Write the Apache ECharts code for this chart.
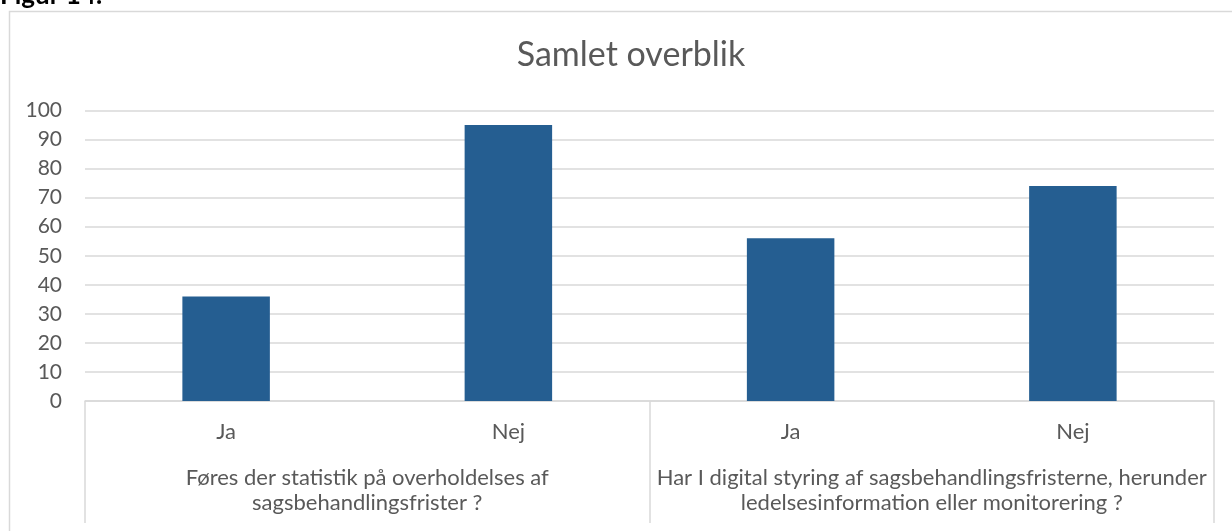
<!DOCTYPE html>
<html>
<head>
<meta charset="utf-8">
<script src="https://cdn.jsdelivr.net/npm/echarts@6/dist/echarts.min.js"></script>
<style>
  html, body { margin: 0; padding: 0; background: #ffffff; }
  #chart { width: 1232px; height: 531px; }
</style>
</head>
<body>
<div id="chart"></div>
<script>
// Answer categories (inner axis level) and the two survey questions (outer level)
const answers = ['Ja', 'Nej', 'Ja', 'Nej'];
const questions = [
  'Føres der statistik på overholdelses af\nsagsbehandlingsfrister ?',
  'Har I digital styring af sagsbehandlingsfristerne, herunder\nledelsesinformation eller monitorering ?'
];
// Number of responses per answer
const counts = [36, 95, 56, 74];
// Value axis ticks
const yMin = 0;
const yMax = 100;
const yStep = 10;

const FONT = 'Lato, "Open Sans", sans-serif';
const TEXT = '#595959';
const GRID = '#d9d9d9';

const chart = echarts.init(document.getElementById('chart'), null, { renderer: 'canvas' });

chart.setOption({
  backgroundColor: '#ffffff',
  animation: false,
  textStyle: { fontFamily: FONT },
  title: {
    text: 'Samlet overblik',
    left: 626,
    top: 33,
    textAlign: 'center',
    textStyle: { fontFamily: FONT, fontSize: 34, fontWeight: 'normal', color: TEXT }
  },
  graphic: [
    {
      type: 'rect',
      shape: { x: 9.5, y: 11.5, width: 1260, height: 560 },
      style: { fill: 'none', stroke: GRID, lineWidth: 1.5 },
      silent: true,
      z: 0
    },
    {
      type: 'text',
      left: 0,
      top: -17,
      style: { text: 'Figur 14:', font: 'bold 26px ' + FONT, fill: '#000000' },
      silent: true
    }
  ],
  grid: { left: 85, right: 18, top: 110.5, bottom: 130, containLabel: false },
  xAxis: [
    {
      type: 'category',
      data: answers,
      position: 'bottom',
      axisLine: { show: true, lineStyle: { color: GRID, width: 1.5 } },
      axisTick: { show: false },
      axisLabel: { color: TEXT, fontSize: 22, fontFamily: FONT, margin: 20, interval: 0 }
    },
    {
      type: 'category',
      data: questions,
      position: 'bottom',
      offset: 122,
      axisLine: { show: false },
      axisTick: { show: true, inside: true, length: 122, interval: 0, lineStyle: { color: GRID, width: 1.5 } },
      axisLabel: {
        inside: true,
        interval: 0,
        hideOverlap: false,
        margin: 8,
        color: TEXT,
        fontSize: 22,
        fontFamily: FONT,
        lineHeight: 25,
        align: 'center',
        verticalAlign: 'bottom'
      },
      splitLine: { show: false }
    }
  ],
  yAxis: {
    type: 'value',
    min: yMin,
    max: yMax,
    interval: yStep,
    axisLine: { show: false },
    axisTick: { show: false },
    axisLabel: { color: TEXT, fontSize: 21, fontFamily: FONT, margin: 23 },
    splitLine: { lineStyle: { color: GRID, width: 1.5 } }
  },
  series: [
    {
      type: 'bar',
      xAxisIndex: 0,
      data: counts,
      barWidth: '31%',
      itemStyle: { color: '#255E91' }
    }
  ]
});
</script>
</body>
</html>
